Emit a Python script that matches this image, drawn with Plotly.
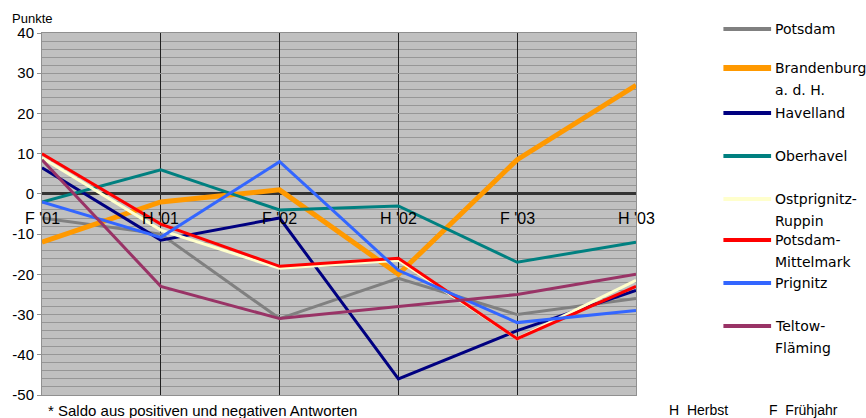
import plotly.graph_objects as go

categories = ["F '01", "H '01", "F '02", "H '02", "F '03", "H '03"]
series_names = [["Potsdam"], ["Brandenburg", "a. d. H."], ["Havelland"], ["Oberhavel"],
                ["Ostprignitz-", "Ruppin"], ["Potsdam-", "Mittelmark"], ["Prignitz"], ["Teltow-", "Fläming"]]
potsdam = [-6, -10, -31, -21, -30, -26]
brandenburg = [-12, -2, 1, -20, 8.5, 27]
havelland = [6.5, -11.5, -6, -46, -34, -24]
oberhavel = [-2, 6, -4, -3, -17, -12]
ostprignitz = [9, -9, -18.5, -16.5, -36, -21.5]
potsdam_mittelmark = [10, -7.5, -18, -16, -36, -23]
prignitz = [-2, -10.8, 8, -19, -32, -29]
teltow = [8.5, -23, -31, -28, -25, -20]
yticks = [40, 30, 20, 10, 0, -10, -20, -30, -40, -50]

values = [potsdam, brandenburg, havelland, oberhavel, ostprignitz, potsdam_mittelmark, prignitz, teltow]
colors = ["#808080", "#FF9900", "#000080", "#008080", "#FFFFCC", "#FF0000", "#3366FF", "#993366"]
widths = [3, 5, 3, 3, 3, 3, 3, 3]

FONT = "Liberation Sans"
LFONT = "DejaVu Sans"
xpos = list(range(len(categories)))

fig = go.Figure()
for name, vals, c, w in zip(series_names, values, colors, widths):
    fig.add_trace(go.Scatter(x=xpos, y=vals, mode="lines", name=" ".join(name),
                             line=dict(color=c, width=w), showlegend=False))

W, H = 866, 418
L, R, T, B = 38, 230, 33, 23
pw = W - L - R
ph = H - T - B

def px2x(px):
    return (px - L) / pw

def py2y(py):
    return (H - B - py) / ph

# category labels just under zero line
for i, cat in enumerate(categories):
    fig.add_annotation(x=i, y=-3.6, xref="x", yref="y", text=cat, showarrow=False,
                       yanchor="top", xanchor="center", font=dict(family=FONT, size=16, color="black"))

# legend (manual)
legend_y = [29, 68, 113, 156, 199, 240, 283, 326]
for name, c, w, ly in zip(series_names, colors, widths, legend_y):
    fig.add_shape(type="line", xref="paper", yref="paper",
                  x0=px2x(724), x1=px2x(772), y0=py2y(ly), y1=py2y(ly),
                  line=dict(color=c, width=w + 1))
    for k, part in enumerate(name):
        fig.add_annotation(xref="paper", yref="paper", x=px2x(774), y=py2y(ly + 22 * k),
                           text=part, showarrow=False, xanchor="left", yanchor="middle", align="left",
                           font=dict(family=LFONT, size=14, color="black"))

fig.add_annotation(xref="paper", yref="paper", x=px2x(6), y=py2y(18), text="Punkte",
                   showarrow=False, xanchor="left", yanchor="middle",
                   font=dict(family=FONT, size=13, color="black"))
fig.add_annotation(xref="paper", yref="paper", x=px2x(42), y=py2y(410),
                   text="* Saldo aus positiven und negativen Antworten",
                   showarrow=False, xanchor="left", yanchor="middle",
                   font=dict(family=FONT, size=15, color="black"))
fig.add_annotation(xref="paper", yref="paper", x=px2x(667), y=py2y(410),
                   text="H&nbsp;&nbsp;Herbst", showarrow=False, xanchor="left", yanchor="middle",
                   font=dict(family=FONT, size=14, color="black"))
fig.add_annotation(xref="paper", yref="paper", x=px2x(768), y=py2y(410),
                   text="F&nbsp;&nbsp;Frühjahr", showarrow=False, xanchor="left", yanchor="middle",
                   font=dict(family=FONT, size=14, color="black"))

fig.update_layout(
    width=W, height=H,
    margin=dict(l=L, r=R, t=T, b=B, pad=0),
    paper_bgcolor="white", plot_bgcolor="#C0C0C0",
    font=dict(family=FONT, size=13, color="black"),
    xaxis=dict(range=[0, len(categories) - 1], tickvals=xpos, showticklabels=False,
               showgrid=True, gridcolor="#202020", gridwidth=1,
               showline=True, linecolor="#909090", linewidth=1, mirror=True,
               zeroline=False, ticks=""),
    yaxis=dict(range=[-50, 40], tickvals=yticks, ticktext=[str(v) for v in yticks],
               showgrid=True, gridcolor="#969696", gridwidth=1,
               minor=dict(dtick=2, showgrid=True, gridcolor="#969696", gridwidth=1),
               zeroline=True, zerolinecolor="#333333", zerolinewidth=3,
               showline=True, linecolor="#909090", linewidth=1, mirror=True,
               ticks="outside", ticklen=4, tickcolor="#909090",
               tickfont=dict(family=FONT, size=15, color="black")),
)

fig.write_html("out.html", config={"displayModeBar": False},
               post_script="document.body.style.margin='0';document.body.style.overflow='hidden';")
